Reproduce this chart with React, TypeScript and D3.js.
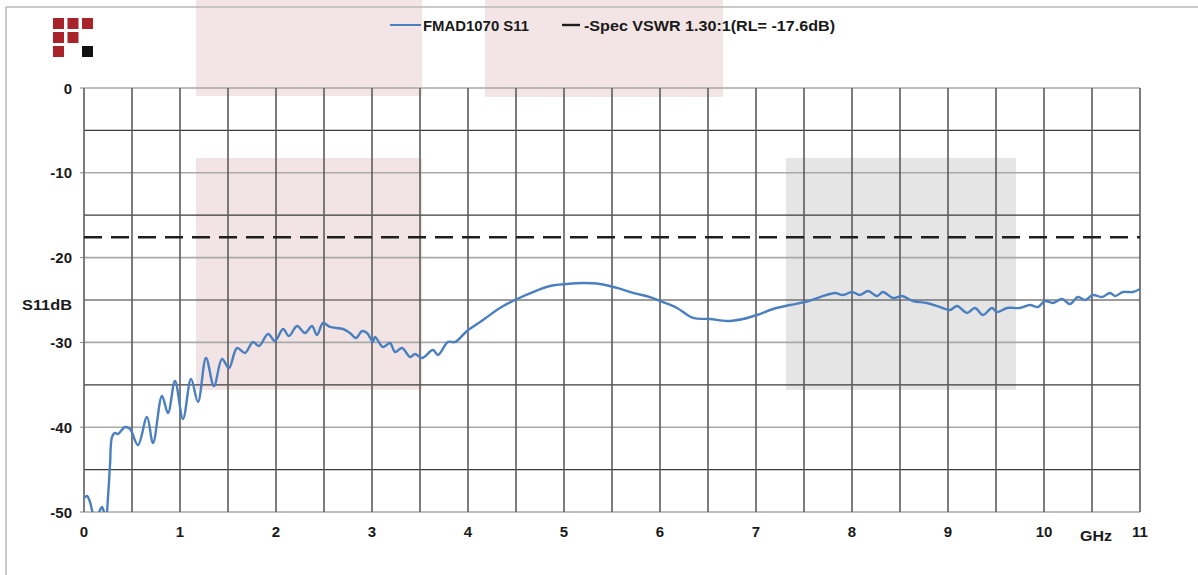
import React from "react";
import * as d3 from "d3";

const freqGHz = [
  0.0, 0.031, 0.0625, 0.094, 0.125, 0.167, 0.1875, 0.229, 0.25, 0.271, 0.292, 0.323, 0.354, 0.427, 0.479,
  0.5625, 0.656, 0.719, 0.8125, 0.875, 0.948, 1.031, 1.115, 1.1875, 1.271, 1.354, 1.4375, 1.51, 1.594,
  1.677, 1.76, 1.823, 1.917, 1.99, 2.073, 2.135, 2.219, 2.302, 2.375, 2.427, 2.49, 2.5625, 2.698, 2.771,
  2.833, 2.896, 2.948, 3.01, 3.031, 3.115, 3.1875, 3.24, 3.3125, 3.396, 3.448, 3.521, 3.635, 3.6875, 3.79,
  3.865, 3.99, 4.156, 4.333, 4.51, 4.677, 4.854, 5.031, 5.198, 5.375, 5.552, 5.719, 5.896, 6.031, 6.177,
  6.344, 6.521, 6.698, 6.865, 7.01, 7.177, 7.354, 7.51, 7.667, 7.823, 7.906, 8.0, 8.083, 8.167, 8.26,
  8.323, 8.427, 8.52, 8.635, 8.78, 8.917, 9.02, 9.094, 9.198, 9.281, 9.365, 9.458, 9.51, 9.615, 9.75,
  9.854, 9.9375, 10.01, 10.094, 10.1875, 10.27, 10.354, 10.427, 10.51, 10.604, 10.6875, 10.74, 10.823,
  10.927, 11.0,
];

const s11dB = [
  -48.35, -48.11, -48.82, -50.24, -50.94, -49.76, -49.41, -50.6, -48.23, -44.46, -41.16, -40.68, -40.8,
  -39.98, -40.21, -42.1, -38.8, -41.86, -36.32, -38.33, -34.55, -39.03, -34.32, -37.03, -31.84, -35.14,
  -31.96, -33.02, -30.66, -31.25, -29.95, -30.42, -29.01, -29.83, -28.42, -29.25, -28.07, -28.89, -28.07,
  -29.13, -27.71, -28.18, -28.42, -28.89, -29.48, -28.66, -28.89, -29.95, -29.36, -30.54, -30.07, -31.13,
  -30.66, -31.72, -31.37, -31.84, -30.9, -31.49, -29.95, -29.95, -28.66, -27.36, -25.94, -24.88, -24.06,
  -23.35, -23.11, -23.0, -23.11, -23.58, -24.17, -24.65, -25.24, -25.94, -27.12, -27.24, -27.48, -27.24,
  -26.77, -26.06, -25.59, -25.24, -24.65, -24.17, -24.41, -24.06, -24.41, -23.94, -24.53, -24.06, -24.76,
  -24.53, -25.12, -25.35, -25.83, -26.18, -25.71, -26.53, -25.94, -26.77, -25.94, -26.42, -25.94, -25.94,
  -25.59, -25.83, -25.12, -25.35, -24.88, -25.47, -24.65, -25.0, -24.41, -24.65, -24.17, -24.53, -24.06,
  -24.06, -23.7,
];

const specRL = -17.6;
const xTicks = [0, 1, 2, 3, 4, 5, 6, 7, 8, 9, 10, 11];
const yTicks = [0, -10, -20, -30, -40, -50];
const seriesName = "FMAD1070 S11";
const specName = "-Spec VSWR 1.30:1(RL= -17.6dB)";
const yLabel = "S11dB";
const xUnit = "GHz";

// background shaded blocks, in data units [x0, x1, yTop, yBottom]
const shadeX0 = [1.167, 4.177, 1.167, 7.3125];
const shadeX1 = [3.521, 6.656, 3.521, 9.708];
const shadeY0 = [10.4, 10.4, -8.25, -8.25];
const shadeY1 = [-0.94, -1.06, -35.6, -35.6];
const shadeFill = ["#f3e5e5", "#f3e5e5", "#f2e4e4", "#e5e5e5"];

// logo grid cells (col,row,color)
const logoCol = [0, 1, 2, 0, 1, 0, 2];
const logoRow = [0, 0, 0, 1, 1, 2, 2];
const logoColor = ["#a8232a", "#a8232a", "#a8232a", "#a8232a", "#a8232a", "#a8232a", "#111111"];

const W = 1198;
const H = 575;
const FONT = "'Liberation Sans', Arial, sans-serif";

export default function App() {
  const x = d3.scaleLinear().domain([0, 11]).range([84, 1140]);
  const y = d3.scaleLinear().domain([-50, 0]).range([512, 88]);

  const pts: [number, number][] = freqGHz.map((f, i) => [f, s11dB[i]]);
  const line = d3
    .line<[number, number]>()
    .x((d) => x(d[0]))
    .y((d) => y(d[1]))
    .curve(d3.curveCatmullRom.alpha(0.5));

  const vLines = d3.range(0, 11.01, 0.5);
  const hLines = d3.range(0, -50.01, -5);

  return (
    <svg
      width={W}
      height={H}
      style={{ position: "absolute", left: 0, top: 0, background: "#fff" }}
      fontFamily={FONT}
    >
      <defs>
        <clipPath id="plotClip">
          <rect x={x(0)} y={y(0)} width={x(11) - x(0)} height={y(-50) - y(0)} />
        </clipPath>
      </defs>
      <rect x={0} y={0} width={W} height={H} fill="#fff" />
      {shadeX0.map((_, i) => (
        <rect
          key={"s" + i}
          x={x(shadeX0[i])}
          y={y(shadeY0[i])}
          width={x(shadeX1[i]) - x(shadeX0[i])}
          height={y(shadeY1[i]) - y(shadeY0[i])}
          fill={shadeFill[i]}
        />
      ))}
      {/* frame */}
      <line x1={6} x2={W} y1={7} y2={7} stroke="#b8b8b8" strokeWidth={1.5} />
      <line x1={6} x2={6} y1={7} y2={H} stroke="#b8b8b8" strokeWidth={1.5} />

      {/* logo */}
      {logoCol.map((c, i) => (
        <rect key={"l" + i} x={53 + c * 14.5} y={18 + logoRow[i] * 14} width={11} height={11} fill={logoColor[i]} />
      ))}

      {/* grid */}
      {hLines.map((v) => {
        const major = Math.round(v) % 10 === 0;
        return (
          <line
            key={"h" + v}
            x1={x(0)}
            x2={x(11)}
            y1={y(v)}
            y2={y(v)}
            stroke={major ? "#a9a9a9" : "#3a3a3a"}
            strokeWidth={major ? 1.6 : 1.2}
          />
        );
      })}
      {vLines.map((v) => (
        <line
          key={"v" + v}
          x1={x(v)}
          x2={x(v)}
          y1={y(0)}
          y2={y(-50)}
          stroke="#5c5c5c"
          strokeWidth={1.6}
        />
      ))}
      {yTicks.map((t) => (
        <line key={"yt" + t} x1={x(0) - 4} x2={x(0)} y1={y(t)} y2={y(t)} stroke="#888" strokeWidth={1} />
      ))}

      {/* spec line */}
      <line
        x1={x(0)}
        x2={x(11)}
        y1={y(specRL)}
        y2={y(specRL)}
        stroke="#1e1e1e"
        strokeWidth={2.6}
        strokeDasharray="18,9"
      />

      {/* data */}
      <path
        d={line(pts) || ""}
        fill="none"
        stroke="#4a7fc0"
        strokeWidth={2.4}
        clipPath="url(#plotClip)"
        strokeLinejoin="round"
      />

      {/* y tick labels */}
      {yTicks.map((t) => (
        <text
          key={"yl" + t}
          x={72}
          y={y(t) + 5.5}
          textAnchor="end"
          fontSize={15}
          fontWeight="bold"
          fill="#1a1a1a"
        >
          {t}
        </text>
      ))}
      <text x={22} y={310} fontSize={15} fontWeight="bold" fill="#1a1a1a" textLength={50} lengthAdjust="spacingAndGlyphs">
        {yLabel}
      </text>

      {/* x tick labels */}
      {xTicks.map((t) => (
        <text
          key={"xl" + t}
          x={x(t)}
          y={537}
          textAnchor="middle"
          fontSize={15}
          fontWeight="bold"
          fill="#1a1a1a"
        >
          {t}
        </text>
      ))}
      <text x={1080} y={541} fontSize={15} fontWeight="bold" fill="#1a1a1a" textLength={32} lengthAdjust="spacingAndGlyphs">
        {xUnit}
      </text>

      {/* legend */}
      <line x1={390} x2={421} y1={25} y2={25} stroke="#4a7fc0" strokeWidth={2} />
      <text x={423} y={31} fontSize={14} fontWeight="bold" fill="#1a1a1a" textLength={106} lengthAdjust="spacingAndGlyphs">
        {seriesName}
      </text>
      <line x1={562} x2={580} y1={25} y2={25} stroke="#1e1e1e" strokeWidth={2.4} />
      <text x={584} y={31} fontSize={14} fontWeight="bold" fill="#1a1a1a" textLength={251} lengthAdjust="spacingAndGlyphs">
        {specName}
      </text>
    </svg>
  );
}
